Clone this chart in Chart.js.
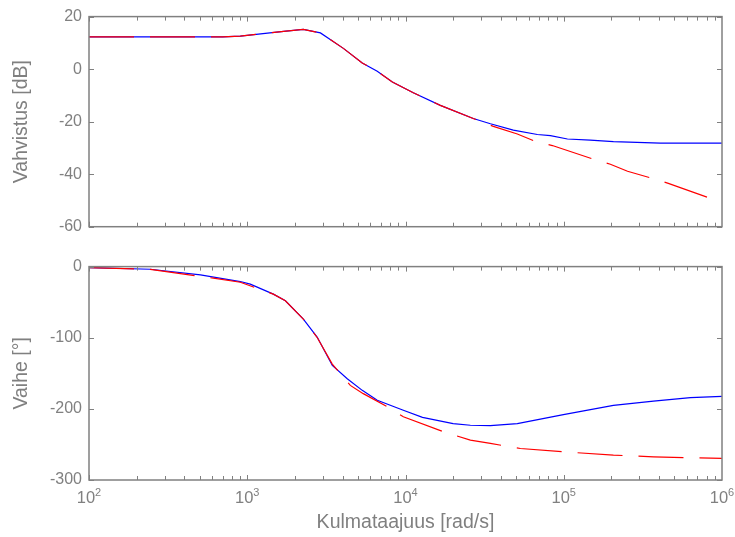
<!DOCTYPE html>
<html><head><meta charset="utf-8">
<script src="https://cdn.jsdelivr.net/npm/chart.js@4/dist/chart.umd.min.js"></script>
<style>
html,body{margin:0;padding:0;background:#fff;}
#wrap{position:relative;width:735px;height:537px;overflow:hidden;}
canvas{position:absolute;left:0;}
</style></head><body>
<div id="wrap">
<canvas id="c1" style="top:0;width:735px;height:250px" width="735" height="250"></canvas>
<canvas id="c2" style="top:250px;width:735px;height:287px" width="735" height="287"></canvas>
</div>
<script>
// ---- data ----
const decadeTicks = [100, 1000, 10000, 100000, 1000000];
const decadeBase = '10';
const decadeExponents = ['2', '3', '4', '5', '6'];
const magTicks = [-60, -40, -20, 0, 20];
const phaseTicks = [-300, -200, -100, 0];

const freqMagBlue = [100, 700, 904, 1300, 1700, 2260, 2900, 4050, 5330, 6630, 8260, 11200, 16600, 26800, 34400, 48000, 68100, 82400, 105500, 147000, 206000, 408000, 1000000];
const magBlue = [12.3, 12.3, 12.6, 13.6, 14.4, 15.1, 13.8, 7.9, 2.3, -0.8, -4.9, -9.0, -13.8, -18.8, -20.8, -23.2, -24.9, -25.3, -26.6, -27.0, -27.6, -28.2, -28.2];

const freqMagRed = [100, 700, 904, 1300, 1700, 2260, 2900, 4050, 5330, 6630, 8260, 11200, 16600, 26800, 35900, 50900, 66100, 84700, 154000, 197000, 253000, 363000, 458000, 844000, 1000000];
const magRed = [12.3, 12.3, 12.6, 13.6, 14.4, 15.1, 13.8, 7.9, 2.3, -0.8, -4.9, -9.0, -13.8, -18.8, -21.8, -24.7, -27.5, -29.1, -34.3, -36.2, -38.9, -41.6, -43.5, -49.2, -50.6];

const freqPhaseBlue = [100, 244, 506, 904, 1045, 1462, 1742, 2262, 2772, 3447, 4285, 5330, 6630, 9690, 12800, 20000, 25700, 34400, 50900, 99500, 206000, 369000, 632000, 1000000];
const phaseBlue = [-1.4, -3.7, -11.6, -21, -24.7, -38.7, -48, -73.7, -99.4, -139, -157.7, -174, -188, -202, -212, -220.7, -223, -223.5, -220.7, -208, -195, -189, -184.3, -182.4];

const freqPhaseRed = [100, 244, 611, 904, 1462, 1742, 2262, 2772, 3447, 4480, 5410, 7680, 9690, 17300, 25700, 34400, 53200, 99500, 206000, 369000, 1000000];
const phaseRed = [-1.4, -4.0, -16.3, -22, -38.7, -48, -73.7, -100, -137, -167, -178.6, -197, -211, -232, -244, -248.6, -255.7, -260.4, -265, -267.4, -269.7];

// ---- styles ----
const GREY = '#808080';
const FONT = 'Liberation Sans, Arial, Helvetica, sans-serif';
const pts = (xs, ys) => xs.map((x, i) => ({x: x, y: ys[i]}));

const boxPlugin = {
  id: 'boxTicks',
  afterDraw(chart, args, opts) {
    const ctx = chart.ctx, a = chart.chartArea;
    const xs = chart.scales.x, ys = chart.scales.y;
    ctx.save();
    ctx.strokeStyle = GREY;
    ctx.lineWidth = 1;
    ctx.beginPath();
    for (let d = 100; d < 1000000; d *= 10) {
      for (let m = 1; m < 10; m++) {
        const v = d * m;
        const px = Math.round(xs.getPixelForValue(v)) + 0.5;
        const len = m === 1 ? 5 : 4;
        ctx.moveTo(px, a.bottom); ctx.lineTo(px, a.bottom - len);
        ctx.moveTo(px, a.top); ctx.lineTo(px, a.top + len);
      }
    }
    ys.ticks.forEach(t => {
      const py = Math.round(ys.getPixelForValue(t.value)) + 0.5;
      ctx.moveTo(a.left, py); ctx.lineTo(a.left + 5, py);
      ctx.moveTo(a.right, py); ctx.lineTo(a.right - 5, py);
    });
    ctx.stroke();
    ctx.lineWidth = 1.5;
    ctx.strokeRect(a.left, a.top, a.right - a.left, a.bottom - a.top);
    if (opts && opts.labels) {
      ctx.fillStyle = GREY;
      ctx.textBaseline = 'alphabetic';
      ctx.textAlign = 'left';
      decadeTicks.forEach((v, i) => {
        const px = xs.getPixelForValue(v);
        ctx.font = '16.5px ' + FONT;
        const w1 = ctx.measureText(decadeBase).width;
        ctx.font = '11px ' + FONT;
        const w2 = ctx.measureText(decadeExponents[i]).width;
        const x0 = px - (w1 + w2) / 2;
        ctx.font = '16.5px ' + FONT;
        ctx.fillText(decadeBase, x0, a.bottom + 23.3);
        ctx.font = '11px ' + FONT;
        ctx.fillText(decadeExponents[i], x0 + w1, a.bottom + 16);
      });
    }
    ctx.restore();
  }
};

function makeChart(id, cfg) {
  return new Chart(document.getElementById(id), {
    type: 'line',
    data: {datasets: [
      {data: cfg.red, borderColor: '#ff0000', borderWidth: 1.2, borderDash: [45, 16], pointRadius: 0, tension: 0, fill: false},
      {data: cfg.blue, borderColor: '#0000ff', borderWidth: 1.2, pointRadius: 0, tension: 0, fill: false}
    ]},
    options: {
      responsive: false, animation: false, devicePixelRatio: 1,
      layout: {autoPadding: false, padding: cfg.padding},
      plugins: {legend: {display: false}, tooltip: {enabled: false}, boxTicks: {labels: cfg.showX}},
      scales: {
        x: {
          type: 'logarithmic', min: 100, max: 1000000,
          grid: {display: false, drawTicks: false}, border: {display: false},
          afterBuildTicks: s => { s.ticks = decadeTicks.map(v => ({value: v})); },
          ticks: {display: false},
          title: {display: cfg.showX, text: 'Kulmataajuus [rad/s]', color: GREY, font: {family: FONT, size: 19.5}, padding: {top: 0, bottom: 3}},
          afterFit: s => { s.height = cfg.xHeight; }
        },
        y: {
          min: cfg.ymin, max: cfg.ymax,
          grid: {display: false, drawTicks: false}, border: {display: false},
          afterBuildTicks: s => { s.ticks = cfg.yTicks.map(v => ({value: v})); },
          ticks: {padding: 7, color: GREY, font: {family: FONT, size: 16}},
          title: {display: true, text: cfg.ytitle, color: GREY, font: {family: FONT, size: 19.5}, padding: {top: 10, bottom: 0}},
          afterFit: s => { s.width = 89; }
        }
      }
    },
    plugins: [boxPlugin]
  });
}

makeChart('c1', {
  red: pts(freqMagRed, magRed), blue: pts(freqMagBlue, magBlue),
  padding: {left: 0, top: 14, right: 13, bottom: 0},
  showX: false, xHeight: 23.3, ymin: -60, ymax: 20, yTicks: magTicks, ytitle: 'Vahvistus [dB]'
});
makeChart('c2', {
  red: pts(freqPhaseRed, phaseRed), blue: pts(freqPhaseBlue, phaseBlue),
  padding: {left: 0, top: 15.7, right: 13, bottom: 0},
  showX: true, xHeight: 57, ymin: -300, ymax: 0, yTicks: phaseTicks, ytitle: 'Vaihe [\u00B0]'
});
</script>
</body></html>
